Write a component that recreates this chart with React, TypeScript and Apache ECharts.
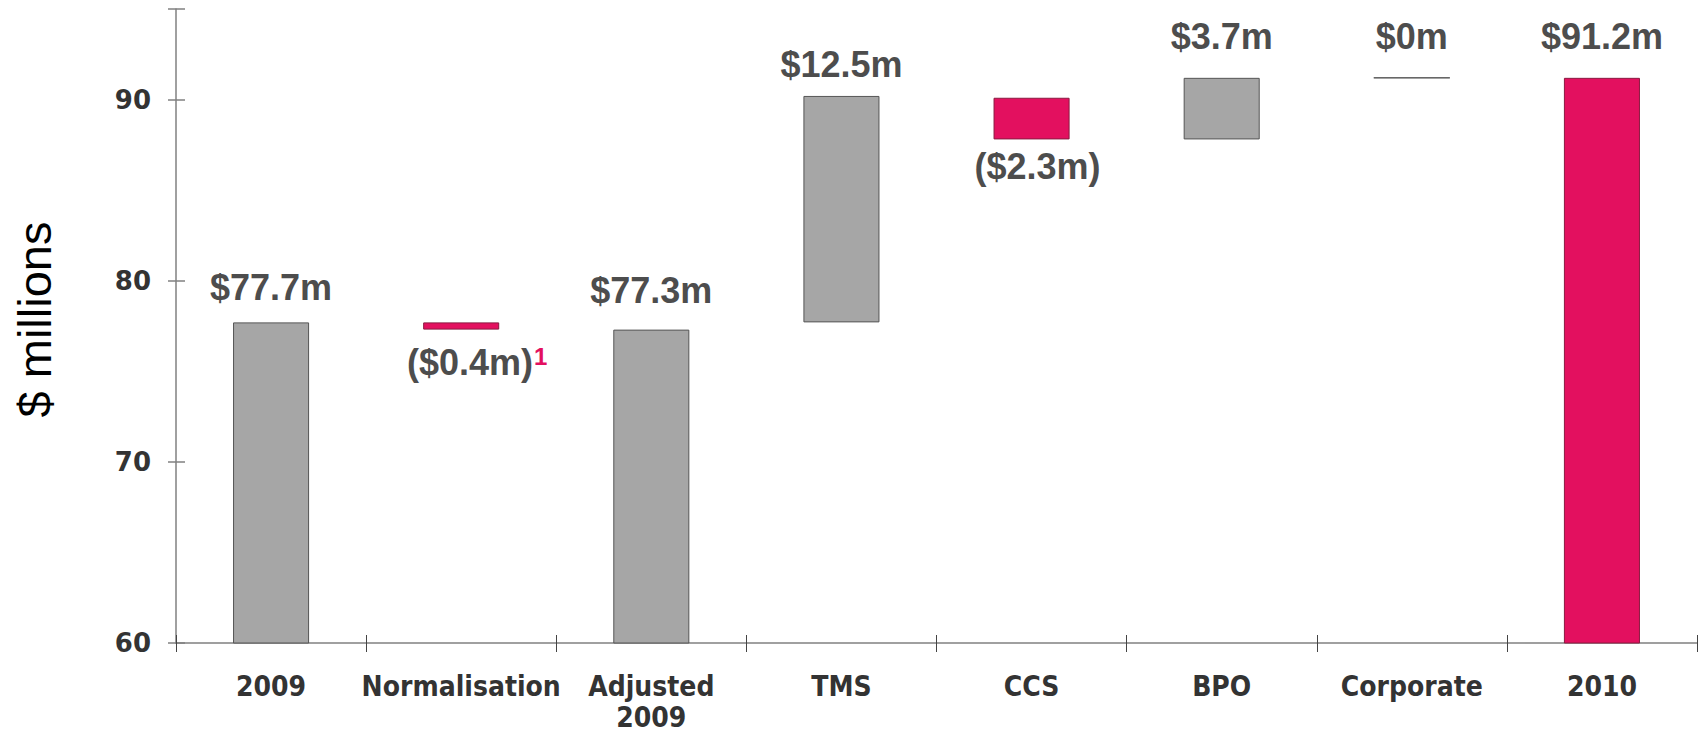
import React, { useEffect, useRef } from "react";
import * as echarts from "echarts";

const categories = ["2009", "Normalisation", "Adjusted\n2009", "TMS", "CCS", "BPO", "Corporate", "2010"];
const barBottom = [0, 77.3, 0, 77.7, 87.8, 87.8, 91.2, 0];
const barTop = [77.7, 77.7, 77.3, 90.2, 90.1, 91.2, 91.2, 91.2];
const barLabels = ["$77.7m", "($0.4m)", "$77.3m", "$12.5m", "($2.3m)", "$3.7m", "$0m", "$91.2m"];
const footnote = ["", "1", "", "", "", "", "", ""];
const negative = [false, true, false, false, true, false, false, false];
const barKind = ["grey", "pink", "grey", "grey", "pink", "grey", "line", "pink"];
const labelGap = [17, 15, 21, 13, 9, 23, 23, 23];
const labelShift = [0, 16, 0, 0, 6, 0, 0, 0];
const yTicks = [60, 70, 80, 90];

const GREY = "#a6a6a6";
const PINK = "#e3105f";

export default function App() {
  const ref = useRef<HTMLDivElement>(null);
  useEffect(() => {
    const chart = echarts.init(ref.current!, null, { renderer: "svg" });
    const visible = categories.map((c, i) => {
      const kind = barKind[i];
      const color = kind === "grey" ? GREY : kind === "pink" ? PINK : "#222";
      return {
        value: barTop[i] - barBottom[i],
        itemStyle: {
          color,
          borderColor: kind === "pink" ? "#8a1a40" : "#555",
          borderWidth: 1,
        },
        label: {
          show: true,
          position: negative[i] ? "bottom" : "top",
          distance: labelGap[i],
          offset: [labelShift[i], 0],
          formatter: footnote[i] ? `{a|${barLabels[i]}}{s|${footnote[i]}}` : `{a|${barLabels[i]}}`,
        },
      };
    });
    const option: any = {
      animation: false,
      grid: { left: 176, right: 3, top: 9, bottom: 88, containLabel: false },
      xAxis: [
        {
          type: "category",
          data: categories,
          axisLine: { lineStyle: { color: "#808080", width: 1.5 } },
          axisTick: { show: false },
          axisLabel: {
            interval: 0,
            margin: 28,
            fontFamily: "'DejaVu Sans Condensed', 'DejaVu Sans'",
            fontWeight: "bold",
            fontSize: 28,
            color: "#333",
            lineHeight: 31,
          },
        },
        {
          type: "category",
          data: categories,
          position: "bottom",
          offset: -8,
          axisLine: { show: false },
          axisTick: { show: true, length: 17, lineStyle: { color: "#444", width: 1 } },
          axisLabel: { show: false },
        },
      ],
      yAxis: [
        {
          type: "value",
          min: 60,
          max: 95,
          interval: 10,
          position: "left",
          name: "$ millions",
          nameLocation: "middle",
          nameGap: 118,
          nameRotate: 90,
          nameTextStyle: {
            fontFamily: "'Liberation Sans', Arial",
            fontSize: 47,
            color: "#000",
            padding: [0, 0, 0, 13],
          },
          axisLine: { show: true, lineStyle: { color: "#808080", width: 1.5 } },
          axisTick: { show: false },
          splitLine: { show: false },
          axisLabel: {
            margin: 25,
            fontFamily: "'DejaVu Sans'",
            fontWeight: "bold",
            fontSize: 26,
            color: "#333",
            formatter: (v: number) => (yTicks.includes(v) ? String(v) : ""),
          },
        },
        {
          type: "value",
          min: 60,
          max: 95,
          interval: 10,
          position: "left",
          offset: -9,
          axisLine: { show: false },
          axisTick: { show: true, length: 17, lineStyle: { color: "#808080", width: 1.5 } },
          splitLine: { show: false },
          axisLabel: { show: false },
        },
      ],
      series: [
        {
          type: "bar",
          stack: "w",
          barWidth: "40%",
          itemStyle: { color: "transparent" },
          emphasis: { disabled: true },
          data: barBottom,
          silent: true,
        },
        {
          type: "bar",
          stack: "w",
          barWidth: "40%",
          data: visible,
          label: {
            rich: {
              a: {
                fontFamily: "'Liberation Sans', Arial",
                fontWeight: "bold",
                fontSize: 36,
                color: "#4d4d4d",
              },
              s: {
                fontFamily: "'Liberation Sans', Arial",
                fontWeight: "bold",
                fontSize: 24,
                color: PINK,
                verticalAlign: "top",
                padding: [0, 0, 6, 1],
              },
            },
          },
        },
      ],
    };
    chart.setOption(option);
    return () => chart.dispose();
  }, []);
  return (
    <div
      ref={ref}
      style={{ position: "absolute", left: 0, top: 0, width: 1700, height: 733 }}
    />
  );
}
